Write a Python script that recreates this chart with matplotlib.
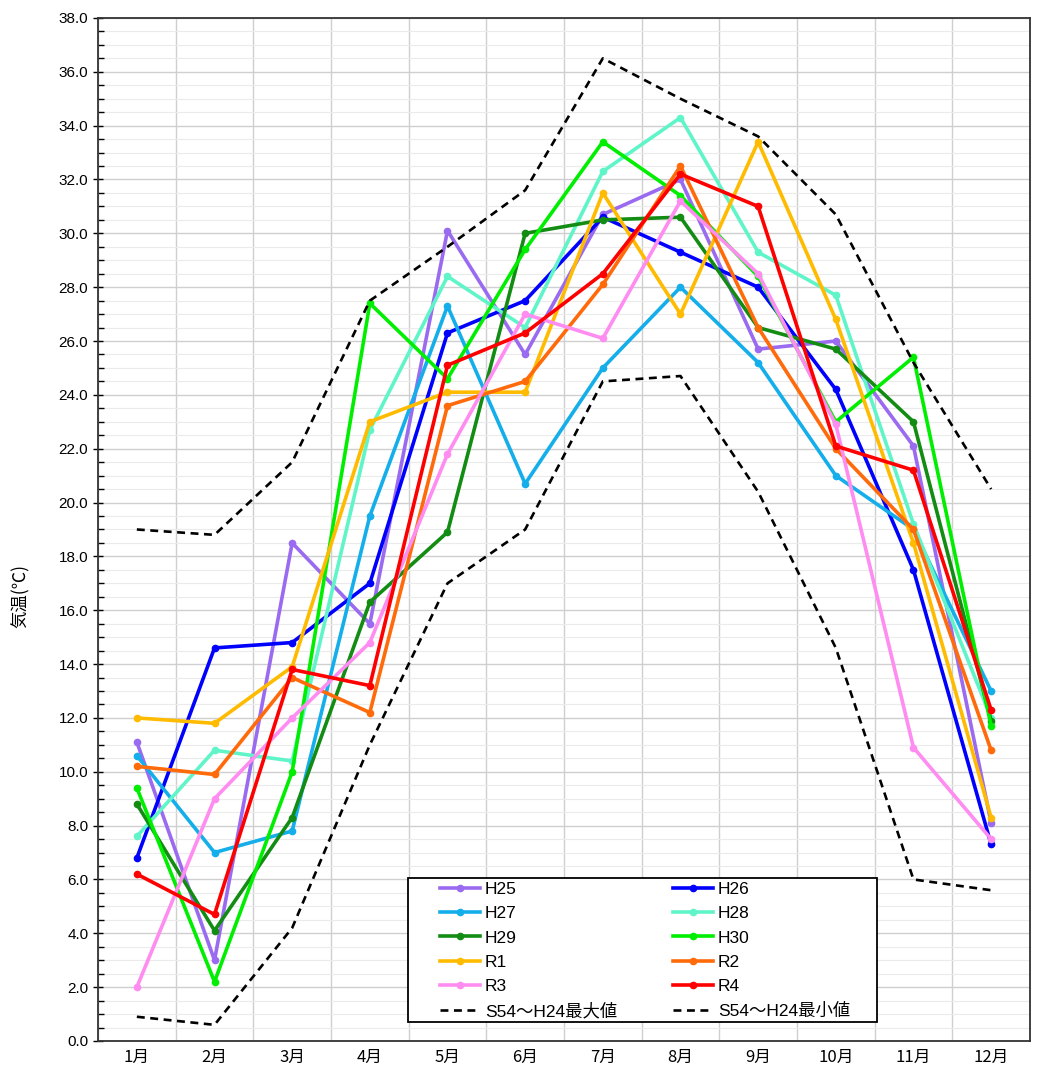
import numpy as np
import matplotlib.pyplot as plt
from matplotlib.ticker import MultipleLocator
from matplotlib.patches import Rectangle

plt.rcParams['font.family'] = ['Liberation Sans', 'Noto Sans CJK JP', 'DejaVu Sans']

months = ['1月', '2月', '3月', '4月', '5月', '6月', '7月', '8月', '9月', '10月', '11月', '12月']

h25 = [11.1, 3.0, 18.5, 15.5, 30.1, 25.5, 30.7, 32.0, 25.7, 26.0, 22.1, 8.1]
h26 = [6.8, 14.6, 14.8, 17.0, 26.3, 27.5, 30.6, 29.3, 28.0, 24.2, 17.5, 7.3]
h27 = [10.6, 7.0, 7.8, 19.5, 27.3, 20.7, 25.0, 28.0, 25.2, 21.0, 19.0, 13.0]
h28 = [7.6, 10.8, 10.4, 22.7, 28.4, 26.5, 32.3, 34.3, 29.3, 27.7, 19.2, 12.0]
h29 = [8.8, 4.1, 8.3, 16.3, 18.9, 30.0, 30.5, 30.6, 26.5, 25.7, 23.0, 11.9]
h30 = [9.4, 2.2, 10.0, 27.4, 24.6, 29.4, 33.4, 31.4, 28.4, 23.0, 25.4, 11.7]
r1 = [12.0, 11.8, 13.9, 23.0, 24.1, 24.1, 31.5, 27.0, 33.4, 26.8, 18.5, 8.3]
r2 = [10.2, 9.9, 13.5, 12.2, 23.6, 24.5, 28.1, 32.5, 26.5, 22.0, 19.0, 10.8]
r3 = [2.0, 9.0, 12.0, 14.8, 21.8, 27.0, 26.1, 31.2, 28.5, 22.9, 10.9, 7.5]
r4 = [6.2, 4.7, 13.8, 13.2, 25.1, 26.3, 28.5, 32.2, 31.0, 22.1, 21.2, 12.3]
max_s54_h24 = [19.0, 18.8, 21.5, 27.5, 29.5, 31.6, 36.5, 35.0, 33.6, 30.7, 25.2, 20.5]
min_s54_h24 = [0.9, 0.6, 4.2, 11.0, 17.0, 19.0, 24.5, 24.7, 20.4, 14.6, 6.0, 5.6]

series = [
    ('H25', h25, '#9A6BF0'),
    ('H26', h26, '#0000FF'),
    ('H27', h27, '#14AEEA'),
    ('H28', h28, '#5FF5C8'),
    ('H29', h29, '#128C12'),
    ('H30', h30, '#00EE00'),
    ('R1', r1, '#FFBB00'),
    ('R2', r2, '#FF6A0A'),
    ('R3', r3, '#FF8CF0'),
    ('R4', r4, '#FF0000'),
]

x = np.arange(1, 13)

fig = plt.figure(figsize=(10.45, 10.82), dpi=100)
ax = fig.add_axes([0.0938, 0.0379, 0.8918, 0.9455])

handles = {}
for name, vals, col in series:
    ln, = ax.plot(x, vals, color=col, lw=2.6, marker='o', ms=4.5, label=name, zorder=3)
    handles[name] = ln

mx, = ax.plot(x, max_s54_h24, color='black', lw=1.9, ls=(0, (3.0, 2.1)), label='S54～H24最大値', zorder=4)
mn, = ax.plot(x, min_s54_h24, color='black', lw=1.9, ls=(0, (3.0, 2.1)), label='S54～H24最小値', zorder=4)

ax.set_xlim(0.5, 12.5)
ax.set_ylim(0, 38)
ax.set_xticks(x)
ax.set_xticklabels(months, fontsize=12, family=['Noto Sans CJK JP'])
ax.set_xticks(np.arange(0.5, 13, 1), minor=True)
ax.yaxis.set_major_locator(MultipleLocator(2))
ax.yaxis.set_minor_locator(MultipleLocator(0.5))
ax.set_yticklabels(['%.1f' % v for v in ax.get_yticks()], fontsize=11)

ax.grid(which='major', axis='y', color='#CFCFCF', lw=1.0)
ax.grid(which='minor', axis='y', color='#EBEBEB', lw=0.8)
ax.grid(which='minor', axis='x', color='#CFCFCF', lw=1.0)
ax.set_axisbelow(True)

ax.tick_params(axis='y', which='major', direction='inout', length=7, width=1)
ax.tick_params(axis='y', which='minor', direction='in', length=4, width=1)
ax.tick_params(axis='x', which='major', length=0, pad=6)
ax.tick_params(axis='x', which='minor', length=0)
for s in ax.spines.values():
    s.set_color('#333333')
    s.set_linewidth(1.3)

ax.set_ylabel('気温(℃)', fontsize=12.5, family=['Noto Sans CJK JP'])
ax.yaxis.set_label_coords(-0.073, 0.435)

# legend frame drawn by hand (wide side padding, tight vertical padding)
ax.add_patch(Rectangle(((408 - 98) / 932, (1041 - 1022) / 1023), 469 / 932, 144 / 1023,
                       transform=ax.transAxes, facecolor='white', edgecolor='black',
                       lw=1.3, zorder=5))

order = ['H25', 'H27', 'H29', 'R1', 'R3', 'H26', 'H28', 'H30', 'R2', 'R4']
hs = [handles[k] for k in order[:5]] + [mx] + [handles[k] for k in order[5:]] + [mn]
leg = ax.legend(handles=hs, labels=[h.get_label() for h in hs], ncol=2,
                loc='upper left', bbox_to_anchor=((440 - 98) / 932, (1041 - 882) / 1023),
                fontsize=12.5, frameon=False, handlelength=2.3, handletextpad=0.29,
                columnspacing=3.2, labelspacing=0.52, borderpad=0, borderaxespad=0)
leg.set_zorder(6)

plt.savefig('out.png')
